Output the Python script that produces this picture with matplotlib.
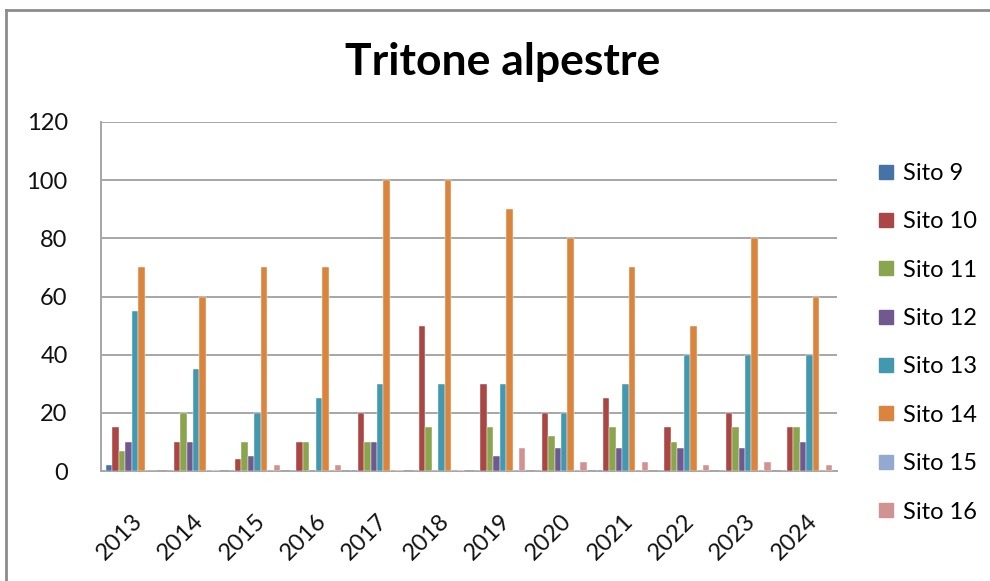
import numpy as np
import matplotlib
matplotlib.use("Agg")
import matplotlib.pyplot as plt
from matplotlib.lines import Line2D

plt.rcParams['font.family'] = ['Lato', 'DejaVu Sans']

anni = ['2013', '2014', '2015', '2016', '2017', '2018',
        '2019', '2020', '2021', '2022', '2023', '2024']
siti = ['Sito 9', 'Sito 10', 'Sito 11', 'Sito 12',
        'Sito 13', 'Sito 14', 'Sito 15', 'Sito 16']

sito_9 = [2, 0, 0, 0, 0.5, 0, 0, 0, 0.5, 0, 0, 0]
sito_10 = [15, 10, 4, 10, 20, 50, 30, 20, 25, 15, 20, 15]
sito_11 = [7, 20, 10, 10, 10, 15, 15, 12, 15, 10, 15, 15]
sito_12 = [10, 10, 5, 0.5, 10, 0, 5, 8, 8, 8, 8, 10]
sito_13 = [55, 35, 20, 25, 30, 30, 30, 20, 30, 40, 40, 40]
sito_14 = [70, 60, 70, 70, 100, 100, 90, 80, 70, 50, 80, 60]
sito_15 = [0, 0, 0, 0, 0, 0, 0, 0, 0, 0, 0, 0]
sito_16 = [0, 0.5, 2, 2, 0.5, 0.5, 8, 3, 3, 2, 3, 2]

serie = [sito_9, sito_10, sito_11, sito_12, sito_13, sito_14, sito_15, sito_16]
colori = ['#4572A7', '#AA4643', '#89A54E', '#71588F',
          '#4198AF', '#DB843D', '#93A9CF', '#D19392']

fig = plt.figure(figsize=(9.9, 5.81), dpi=100)
ax = fig.add_axes([101 / 990, 1 - 471 / 581, 736 / 990, 349 / 581])

# barre raggruppate stile Excel (gap 150%)
n = len(serie)
w = 1 / (n + 1.5)
x = np.arange(len(anni))
for i, (vals, col, nome) in enumerate(zip(serie, colori, siti)):
    pos = x - 0.5 + 0.75 * w + (i + 0.5) * w
    ax.bar(pos, vals, width=w, color=col, label=nome,
           edgecolor='white', linewidth=0.3, zorder=3)

ax.set_xlim(-0.5, len(anni) - 0.5)
ax.set_ylim(0, 120)
ax.set_yticks(range(0, 121, 20))
ax.yaxis.grid(True, color='#A6A6A6', linewidth=1.4, zorder=0)
ax.set_axisbelow(True)

for s in ['top', 'right']:
    ax.spines[s].set_visible(False)
for s in ['left', 'bottom']:
    ax.spines[s].set_color('#A6A6A6')
    ax.spines[s].set_linewidth(1.4)

ax.tick_params(axis='both', length=0, labelsize=17, colors='#111111')
ax.tick_params(axis='y', pad=24)
ax.set_xticks(x)
ax.set_xticklabels(anni, rotation=45, ha='right', rotation_mode='anchor')
ax.tick_params(axis='x', pad=28)

fig.text(0.508, 1 - 62 / 581, 'Tritone alpestre', ha='center', va='center',
         fontsize=32, fontweight='bold')

handles = [Line2D([], [], marker='s', linestyle='none', markersize=10,
                  markerfacecolor=c, markeredgecolor=c) for c in colori]
fig.legend(handles, siti, loc='upper left', bbox_to_anchor=(865 / 990, 1 - 151 / 581),
           frameon=False, fontsize=17, handlelength=0.8, handletextpad=0.3,
           labelspacing=1.16, borderpad=0)

# cornice del grafico
fig.add_artist(Line2D([6 / 990, 6 / 990], [0, 1 - 10 / 581], color='#8C8C8C', linewidth=2))
fig.add_artist(Line2D([6 / 990, 1], [1 - 10 / 581, 1 - 10 / 581], color='#8C8C8C', linewidth=2))

fig.savefig('out.png', dpi=100)
